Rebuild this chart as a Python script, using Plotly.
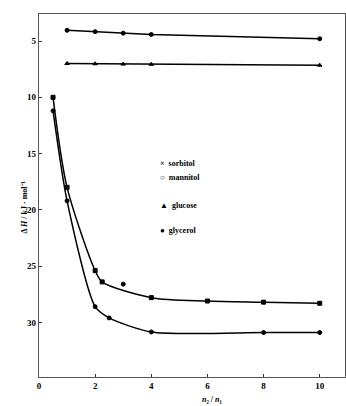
import plotly.graph_objects as go

# ---- data ----
sorbitol_x = [0.5, 1, 2, 2.25, 4, 6, 8, 10]
sorbitol_y = [10.0, 18.0, 25.4, 26.4, 27.8, 28.1, 28.2, 28.3]
extra_x = [3]
extra_y = [26.6]
mannitol_x = [0.5, 1, 2, 2.5, 4, 8, 10]
mannitol_y = [11.2, 19.2, 28.6, 29.6, 30.85, 30.9, 30.9]
glucose_x = [1, 2, 3, 4, 10]
glucose_y = [7.0, 7.02, 7.05, 7.07, 7.15]
glycerol_x = [1, 2, 3, 4, 10]
glycerol_y = [4.05, 4.17, 4.3, 4.42, 4.8]

x_ticks = [0, 2, 4, 6, 8, 10]
y_ticks = [5, 10, 15, 20, 25, 30]
legend_names = ["sorbitol", "mannitol", "glucose", "glycerol"]
legend_symbols = ["×", "○", "▲", "●"]

FONT = "Liberation Serif"
fig = go.Figure()

def add(x, y, sym, shape="spline", mode="lines+markers", smoothing=0.8):
    fig.add_trace(go.Scatter(
        x=x, y=y, mode=mode,
        line=dict(color="black", width=1.5, shape=shape, smoothing=smoothing),
        marker=dict(symbol=sym, size=4, color="black",
                    line=dict(color="black", width=1)),
        showlegend=False, hoverinfo="skip"))

add(sorbitol_x, sorbitol_y, "square", smoothing=0.8)
add(mannitol_x, mannitol_y, "circle", smoothing=0.7)
add(extra_x, extra_y, "circle", mode="markers")
add(glucose_x, glucose_y, "triangle-up", shape="linear")
add(glycerol_x, glycerol_y, "circle", shape="linear")

# hand-placed legend as text
legend_y = [163, 177, 205, 231]
for name, sym, yp in zip(legend_names, legend_symbols, legend_y):
    fig.add_annotation(x=158, y=406 - yp, xref="paper", yref="paper",
                       text=f"{sym}  {name}", showarrow=False,
                       xanchor="left", yanchor="middle",
                       font=dict(family=FONT, size=8, color="black", weight="bold"))

axis_common = dict(showline=True, linecolor="#555", linewidth=1.2, mirror=True,
                   ticks="inside", ticklen=3, tickcolor="#333", showgrid=False,
                   zeroline=False,
                   tickfont=dict(family=FONT, size=9, color="black", weight="bold"))

fig.update_xaxes(range=[0, 10.9], tickvals=x_ticks, ticktext=[str(v) for v in x_ticks],
                 ticklabelstandoff=0, **axis_common)
fig.update_yaxes(range=[34.85, 2.6], tickvals=y_ticks, ticktext=[str(v) for v in y_ticks],
                 **axis_common)

# axis titles
fig.add_annotation(x=212, y=406 - 399, xref="paper", yref="paper",
                   text="<i>n</i>₂ / <i>n</i>₁", showarrow=False,
                   font=dict(family=FONT, size=8, color="black", weight="bold"),
                   yanchor="middle", borderpad=0)
fig.add_annotation(x=18, y=406 - 207, xref="paper", yref="paper",
                   text="Δ <i>H</i> / kJ · mol⁻¹", showarrow=False, textangle=-90,
                   font=dict(family=FONT, size=8, color="black", weight="bold"))

# convert pixel-based paper coordinates for annotations
W, H = 346, 406
L, R, T, B = 39, 1, 14, 29
pw, ph = W - L - R, H - T - B
for a in fig.layout.annotations:
    a.x = (a.x - L) / pw
    a.y = (a.y - B) / ph

fig.update_layout(width=W, height=H, margin=dict(l=L, r=R, t=T, b=B),
                  paper_bgcolor="white", plot_bgcolor="white", hovermode=False)
fig.write_html("out.html", config={"displayModeBar": False},
               post_script="document.body.style.margin='0';document.body.style.overflow='hidden';")
